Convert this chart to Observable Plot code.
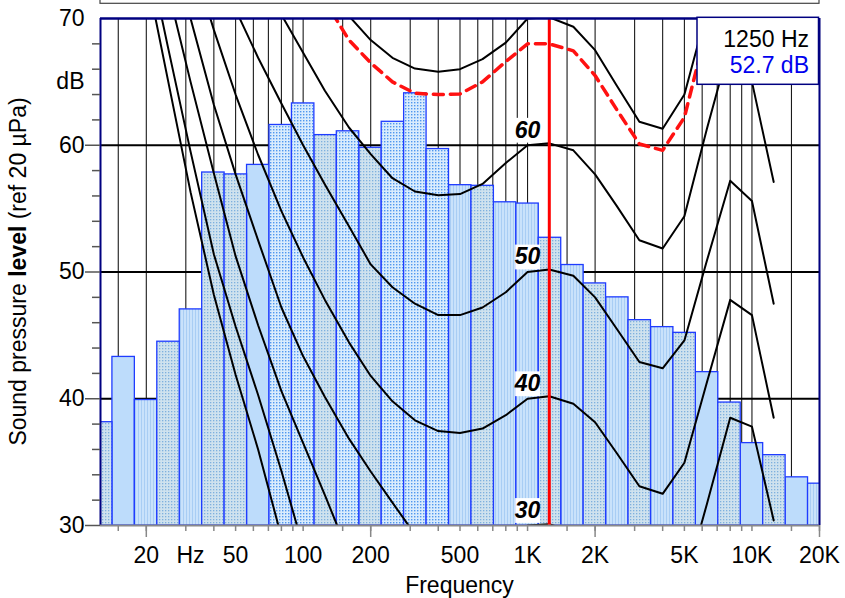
<!DOCTYPE html>
<html><head><meta charset="utf-8">
<script src="https://cdn.jsdelivr.net/npm/d3@7"></script>
<script src="https://cdn.jsdelivr.net/npm/@observablehq/plot@0.6"></script>
<style>
body{margin:0;background:#fff;}
#chart{width:845px;height:598px;}
</style></head><body><div id="chart"></div>
<script>
// ---------------- data ----------------
// third-octave band spectrum (nominal centre frequency, Hz) and level (dB)
const bandFreqs = [12.5,16,20,25,31.5,40,50,63,80,100,125,160,200,250,315,400,500,630,800,1000,1250,1600,2000,2500,3150,4000,5000,6300,8000,10000,12500,16000,20000];
const bandLevels = [38.15,43.3,39.9,44.5,47.05,57.85,57.7,58.45,61.6,63.3,60.8,61.1,59.8,61.85,64.1,59.7,56.85,56.8,55.5,55.4,52.7,50.55,49.1,48.0,46.2,45.65,45.2,42.1,39.7,36.5,35.55,33.8,33.3];

// equal-loudness contours, sampled at these frequencies
const contourFreqs = [20,25,31.5,40,50,63,80,100,125,160,200,250,315,400,500,630,800,1000,1250,1600,2000,2500,3150,4000,5000,6300,8000,10000,12500];
const phon0  = [73.6,65.1,56.3,48.2,41.9,36.0,29.1,23.5,18.5,14.0,10.5,8.0,6.0,4.5,3.5,3.0,2.8,3.0,3.2,2.5,0.0,-2.0,-4.0,-4.5,-3.0,2.0,10.0,10.0,4.0];
const phon10 = [75.8,67.7,59.5,51.4,45.7,40.3,34.3,28.3,23.5,19.5,16.5,14.0,12.0,10.5,9.5,9.0,9.0,10.0,10.2,9.5,7.5,5.0,3.0,2.5,4.5,10.5,19.0,19.0,13.0];
const phon20 = [79.6,72.3,65.0,57.8,51.25,45.8,40.6,36.5,32.4,27.7,25.0,23.0,21.5,20.0,19.2,19.0,19.2,20.0,20.2,19.5,17.5,15.0,13.0,12.5,15.0,21.5,28.5,28.0,21.5];
const phon30 = [84.5,77.0,70.0,63.2,57.7,52.5,47.2,43.35,40.14,36.85,34.26,31.8,29.3,28.0,27.6,27.9,28.9,30.0,30.1,29.5,28.2,25.8,23.3,22.6,25.3,31.7,38.5,37.8,30.4];
const phon40 = [89.0,81.8,75.1,69.1,64.0,59.25,54.8,51.15,47.8,44.45,41.8,39.8,38.3,37.45,37.3,37.65,38.7,40.0,40.2,39.6,38.15,35.7,33.1,32.5,34.95,41.3,47.8,46.6,38.5];
const phon50 = [94.0,87.0,81.0,75.5,70.7,66.9,63.3,60.0,56.9,53.6,50.6,48.8,47.5,46.6,46.6,47.2,48.4,50.0,50.2,49.7,48.0,45.5,42.9,42.4,44.6,50.9,57.2,55.6,47.5];
const phon60 = [104.0,97.0,90.0,84.0,78.5,74.0,70.3,67.3,64.3,61.4,59.3,57.4,56.35,56.05,56.15,56.95,58.6,60.0,60.15,59.6,57.7,55.2,52.5,51.85,54.4,61.3,68.0,65.0,57.1];
const phon70 = [114,107,100,94,88.5,84,80,76.5,73.2,70.2,68.3,66.9,66.05,65.8,66.0,66.8,68.1,70.0,70.1,69.35,67.5,64.7,61.85,61.3,64.0,70.6,76.0,75.0,66.5];
const phonLevels = [0,10,20,30,40,50,60,70];
// contour of the spectrum's own loudness level (red dashed)
const loudnessContour = [112,105,98,92,86.5,82,78,74.5,71.4,68.3,66.5,65.0,64.1,64.0,64.05,65.0,66.6,68.0,68.0,67.45,65.5,62.8,60.1,59.6,62.2,69.3,74.0,73.0,65.3];

const labelledPhons = [30,40,50,60];
const phonRefFreq = 1000;
const selectedBand = 1250;

const xLabelTicks = [20,31.5,50,100,200,500,1000,2000,5000,10000,20000];
const xLabelTexts = ["20","Hz","50","100","200","500","1K","2K","5K","10K","20K"];
const xMinorTicks = [15,20,30,40,50,60,70,80,90,100,150,200,300,400,500,600,700,800,900,1000,1500,2000,3000,4000,5000,6000,7000,8000,9000,10000,15000,20000];
const xMajorTicks = [20,200,2000,20000];
const yLabelTicks = [30,40,50,60,65,70];
const yLabelTexts = ["30","40","50","60","dB","70"];
const yMajorTicks = [30,40,50,60];
const yMinorTicks = [32,34,36,38,42,44,46,48,52,54,56,58,62,64,66,68];
const yGrid = [40,50,60];

// ---------------- styling (bar textures) ----------------
const barTextures = ["pDots","pPlain","pStripes","pDots","pStripes","pDots","pDots","pPlain","pBlue","pBlue","pDots","pBlue","pDots","pBlue","pBlue","pBlue","pStripes","pDots","pStripes","pStripes","pDots","pStripes","pDots","pStripes","pDots","pStripes","pDots","pPlain","pDots","pPlain","pDots","pPlain","pStripes"];

// ---------------- build tables ----------------
const bands = bandFreqs.map((f, i) => {
  const n = Math.round(10 * Math.log10(f));
  return {f, level: bandLevels[i], x1: 10 ** ((n - 0.5) / 10), x2: 10 ** ((n + 0.5) / 10), tex: barTextures[i]};
});
const contourSeries = [phon0, phon10, phon20, phon30, phon40, phon50, phon60, phon70];
const contourRows = phonLevels.flatMap((p, k) => contourFreqs.map((f, i) => ({phon: p, f, L: contourSeries[k][i]})));
const loudRows = contourFreqs.map((f, i) => ({f, L: loudnessContour[i]}));
const labelRows = labelledPhons.map(p => ({f: phonRefFreq, p}));
const xLabelRows = xLabelTicks.map((t, i) => ({t, s: xLabelTexts[i]}));
const yLab = new Map(yLabelTicks.map((t, i) => [t, yLabelTexts[i]]));

const texNames = ["pPlain","pStripes","pDots","pBlue"];
const barMarks = texNames.map(t => Plot.rect(bands.filter(d => d.tex === t), {
  x1: "x1", x2: "x2", y1: () => 30, y2: "level", fill: `url(#${t})`, stroke: "#1f3cff", strokeWidth: 1.3, clip: true
}));

const chart = Plot.plot({
  width: 845, height: 598,
  marginLeft: 100, marginRight: 26, marginTop: 18, marginBottom: 73,
  style: {fontFamily: "'Liberation Sans', Arial, sans-serif", background: "white", overflow: "visible"},
  x: {type: "log", domain: [12.5, 20000]},
  y: {domain: [30, 70]},
  marks: [
    Plot.ruleX(xMinorTicks, {stroke: "#1a1a1a", strokeWidth: 1.1}),
    Plot.ruleY(yGrid, {stroke: "black", strokeWidth: 2}),
    ...barMarks,
    Plot.line(contourRows, {x: "f", y: "L", z: "phon", stroke: "black", strokeWidth: 2, strokeLinejoin: "round", clip: true}),
    Plot.line(loudRows, {x: "f", y: "L", stroke: "#ff1111", strokeWidth: 3.5, strokeDasharray: "10,7", clip: true}),
    Plot.ruleX([selectedBand], {stroke: "#ff0000", strokeWidth: 3}),
    Plot.dot(labelRows, {x: "f", y: "p", dy: -15, symbol: "square", r: 14, fill: "white"}),
    Plot.text(labelRows, {x: "f", y: "p", text: d => String(d.p), dy: -15, fontSize: 23, fontWeight: "bold", fontStyle: "italic", fill: "black"}),
    Plot.ruleY([70], {stroke: "#000080", strokeWidth: 2.5}),
    Plot.ruleX([12.5], {stroke: "#000080", strokeWidth: 2}),
    Plot.ruleX([20000], {stroke: "#000080", strokeWidth: 2}),
    Plot.ruleY([30], {stroke: "#8a8a8a", strokeWidth: 2}),
    Plot.axisX({ticks: xMinorTicks, tickSize: 6, tickFormat: () => "", stroke: "#888", strokeWidth: 1.5, label: null}),
    Plot.axisX({ticks: xMajorTicks, tickSize: 12, tickFormat: () => "", stroke: "#888", strokeWidth: 1.5, label: null}),
    Plot.text(xLabelRows, {x: "t", text: "s", frameAnchor: "bottom", dy: 30, lineAnchor: "middle", fontSize: 23, fill: "black"}),
    Plot.axisY({ticks: yMajorTicks, tickSize: 15, tickFormat: () => "", stroke: "#555", strokeWidth: 1.5, label: null}),
    Plot.axisY({ticks: yMinorTicks, tickSize: 8, tickFormat: () => "", stroke: "#555", strokeWidth: 1.5, label: null}),
    Plot.axisY({ticks: yLabelTicks, tickSize: 0, tickPadding: 16, tickFormat: d => yLab.get(d), fontSize: 23, fill: "black", label: null})
  ]
});

const svg = d3.select(chart);
svg.insert("defs", ":first-child").html(`
  <pattern id="pPlain" width="4" height="4" patternUnits="userSpaceOnUse"><rect width="4" height="4" fill="#bddcfb"/></pattern>
  <pattern id="pStripes" width="3" height="3" patternUnits="userSpaceOnUse"><rect width="3" height="3" fill="#c9e2fb"/><rect width="1" height="3" fill="#a8cdf4"/></pattern>
  <pattern id="pDots" width="3" height="3" patternUnits="userSpaceOnUse"><rect width="3" height="3" fill="#cfe2ee"/><rect width="1.3" height="1.3" fill="#7eb0de"/></pattern>
  <pattern id="pBlue" width="3" height="3" patternUnits="userSpaceOnUse"><rect width="3" height="3" fill="#d9ecfd"/><rect width="1.4" height="1.4" fill="#4f97ef"/></pattern>
`);

const fx = chart.scale("x"), fy = chart.scale("y");
const frameL = fx.apply(12.5), frameR = fx.apply(20000), frameT = fy.apply(70), frameB = fy.apply(30);

// box above the chart (edge of neighbouring panel)
svg.append("rect").attr("x", frameL).attr("y", -6).attr("width", frameR - frameL).attr("height", 9.3)
  .attr("fill", "none").attr("stroke", "#444").attr("stroke-width", 1.2);

// axis titles
const yt = svg.append("text").attr("transform", `translate(26,${(frameT + frameB) / 2}) rotate(-90)`)
  .attr("text-anchor", "middle").attr("font-size", 23).attr("fill", "black");
yt.append("tspan").text("Sound pressure ");
yt.append("tspan").attr("font-weight", "bold").text("level");
yt.append("tspan").text(" (ref 20 µPa)");
svg.append("text").attr("x", (frameL + frameR) / 2).attr("y", 593).attr("text-anchor", "middle")
  .attr("font-size", 23).attr("fill", "black").text("Frequency");

// readout box
const selLevel = bandLevels[bandFreqs.indexOf(selectedBand)];
svg.append("rect").attr("x", frameR - 122).attr("y", frameT - 0.7).attr("width", 121.5).attr("height", 67)
  .attr("fill", "white").attr("stroke", "#000080").attr("stroke-width", 1.5);
svg.append("text").attr("x", frameR - 10).attr("y", frameT + 28.7).attr("text-anchor", "end")
  .attr("font-size", 23).attr("fill", "black").text(`${selectedBand} Hz`);
svg.append("text").attr("x", frameR - 10).attr("y", frameT + 54.7).attr("text-anchor", "end")
  .attr("font-size", 23).attr("fill", "#0000ee").text(`${selLevel.toFixed(1)} dB`);

document.getElementById("chart").appendChild(chart);
</script></body></html>
